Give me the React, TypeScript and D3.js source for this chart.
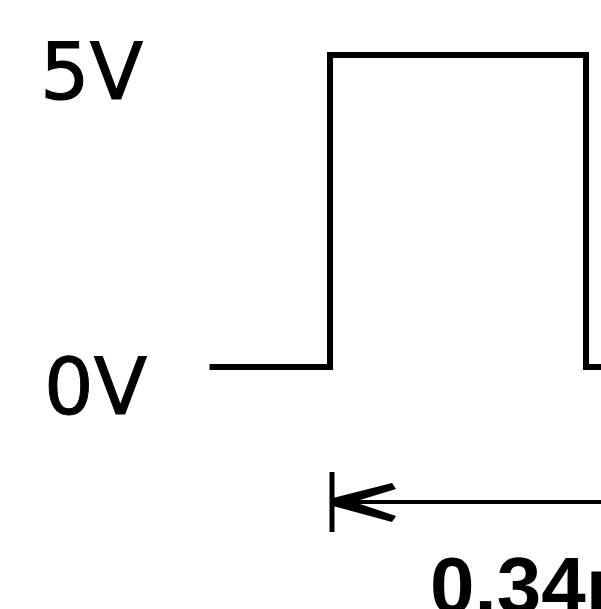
import React from 'react'
import * as d3 from 'd3'

// waveform corners: time in microseconds, level in volts
const times = [-0.08, 0, 0, 0.17, 0.17, 0.2]
const volts = [0, 0, 5, 5, 0, 0]
const levelTicks = [0, 5]
const levelLabels = ['0V', '5V']
const periodStart = 0
const periodEnd = 0.34
const periodLabel = '0.34μs'

const W = 601
const H = 609

function App() {
  const x = d3.scaleLinear().domain([0, 0.34]).range([330, 842])
  const y = d3.scaleLinear().domain([0, 5]).range([367, 55])

  const points: [number, number][] = times.map((t, i) => [t, volts[i]])
  const line = d3
    .line<[number, number]>()
    .x((d) => x(d[0]))
    .y((d) => y(d[1]))
    .curve(d3.curveLinear)

  const arrowY = 502
  const x0 = x(periodStart)
  // solid wedge at the tip, then two thinner barbs
  const head = [
    [x0 + 3, arrowY - 4],
    [x0 + 62, arrowY - 19],
    [x0 + 66, arrowY - 13],
    [x0 + 30, arrowY - 2],
    [x0 + 30, arrowY + 2],
    [x0 + 66, arrowY + 14],
    [x0 + 62, arrowY + 20],
    [x0 + 3, arrowY + 4],
  ]

  return (
    <svg
      width={W}
      height={H}
      style={{ position: 'absolute', left: 0, top: 0, background: '#fff' }}
    >
      <rect width={W} height={H} fill="#fff" />

      {/* level labels */}
      {levelTicks.map((v, i) => (
        <text
          key={v}
          x={v === 0 ? 44 : 40}
          y={y(v) + (v === 0 ? 47 : 44)}
          fontFamily="DejaVu Sans"
          fontSize={78}
          fill="#000"
          stroke="#000"
          strokeWidth={1}
        >
          {levelLabels[i]}
        </text>
      ))}

      {/* pulse */}
      <path
        d={line(points) || ''}
        fill="none"
        stroke="#000"
        strokeWidth={6}
        strokeLinejoin="miter"
      />

      {/* period dimension arrow */}
      <line x1={x0 + 2} y1={472} x2={x0 + 2} y2={532} stroke="#000" strokeWidth={5} />
      <line x1={x0 + 4} y1={arrowY} x2={x(periodEnd)} y2={arrowY} stroke="#000" strokeWidth={4} />
      <polygon points={head.map((p) => p.join(',')).join(' ')} fill="#000" />

      <text
        x={430}
        y={613}
        fontFamily="Liberation Sans"
        fontWeight="bold"
        fontSize={80}
        fill="#000"
      >
        {periodLabel}
      </text>
    </svg>
  )
}

export default App
